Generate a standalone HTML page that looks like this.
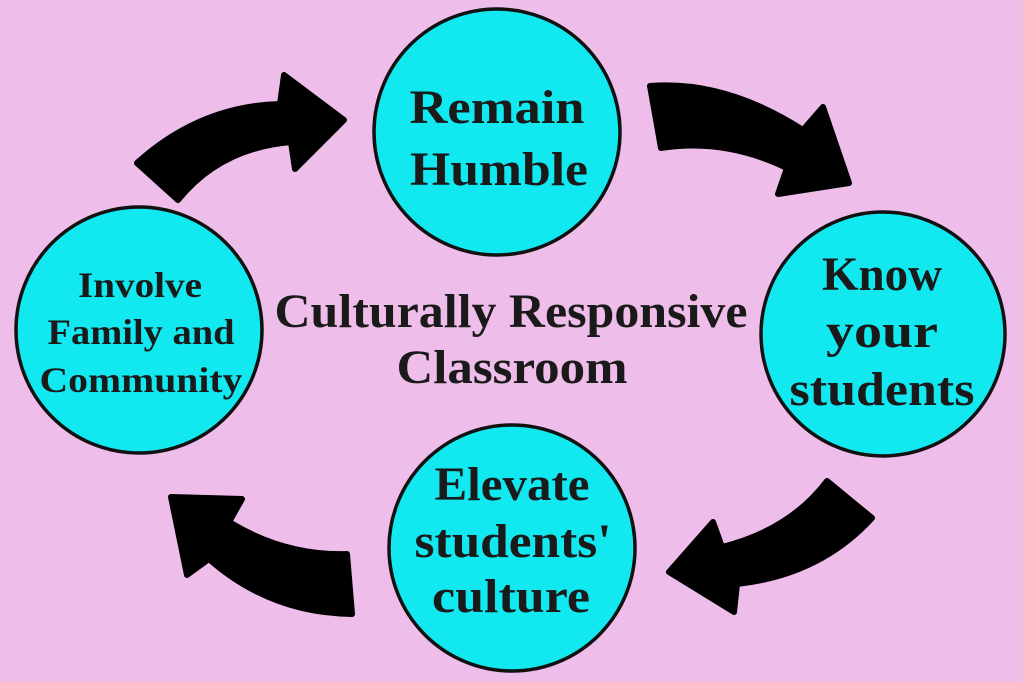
<!DOCTYPE html>
<html><head><meta charset="utf-8"><style>
body{margin:0;width:1023px;height:682px;background:#EEBDEA;overflow:hidden}
svg{display:block}
text{font-family:"Liberation Serif",serif;font-weight:bold;fill:#1a1a1a;text-anchor:middle}
</style></head><body>
<svg width="1023" height="682" viewBox="0 0 1023 682">
<rect width="1023" height="682" fill="#EEBDEA"/>
<g fill="#12E8F0" stroke="#111" stroke-width="3.5">
<circle cx="497" cy="132" r="123"/>
<circle cx="883" cy="334" r="122"/>
<circle cx="512" cy="548" r="123"/>
<circle cx="139" cy="330" r="123"/>
</g>
<g fill="#000" stroke="#000" stroke-width="6" stroke-linejoin="round">
<path d="M137,163 Q200,106 280,104 L284,75 L344,120 L295,169 L291,142 Q220,148 178,200 Z"/>
<path d="M650,86 Q725,80 803,130 L823,107 L849,183 L778,194 L787,168 Q725,138 661,148 Z"/>
<path d="M827,481 L872,518 Q820,575 737,584 L734,612 L669,572 L713,522 L722,547 Q790,530 827,481 Z"/>
<path d="M171,497 L242,499 L229,522 Q285,556 347,554 L352,614 Q270,613 209,559 L187,575 Z"/>
</g>
<g font-size="48">
<text x="497" y="123" textLength="175" lengthAdjust="spacingAndGlyphs">Remain</text>
<text x="499" y="185" textLength="178" lengthAdjust="spacingAndGlyphs">Humble</text>
<text x="882" y="290" textLength="120" lengthAdjust="spacingAndGlyphs">Know</text>
<text x="882" y="347" textLength="112" lengthAdjust="spacingAndGlyphs">your</text>
<text x="882" y="405" textLength="185" lengthAdjust="spacingAndGlyphs">students</text>
<text x="512" y="500" textLength="155" lengthAdjust="spacingAndGlyphs">Elevate</text>
<text x="513" y="557" textLength="197" lengthAdjust="spacingAndGlyphs">students'</text>
<text x="511" y="612" textLength="158" lengthAdjust="spacingAndGlyphs">culture</text>
<text x="511" y="327" textLength="473" lengthAdjust="spacingAndGlyphs">Culturally Responsive</text>
<text x="512" y="383" textLength="231" lengthAdjust="spacingAndGlyphs">Classroom</text>
</g>
<g font-size="36">
<text x="140" y="297" textLength="124" lengthAdjust="spacingAndGlyphs">Involve</text>
<text x="141" y="344" textLength="187" lengthAdjust="spacingAndGlyphs">Family and</text>
<text x="141" y="392" textLength="203" lengthAdjust="spacingAndGlyphs">Community</text>
</g>
</svg>
</body></html>
